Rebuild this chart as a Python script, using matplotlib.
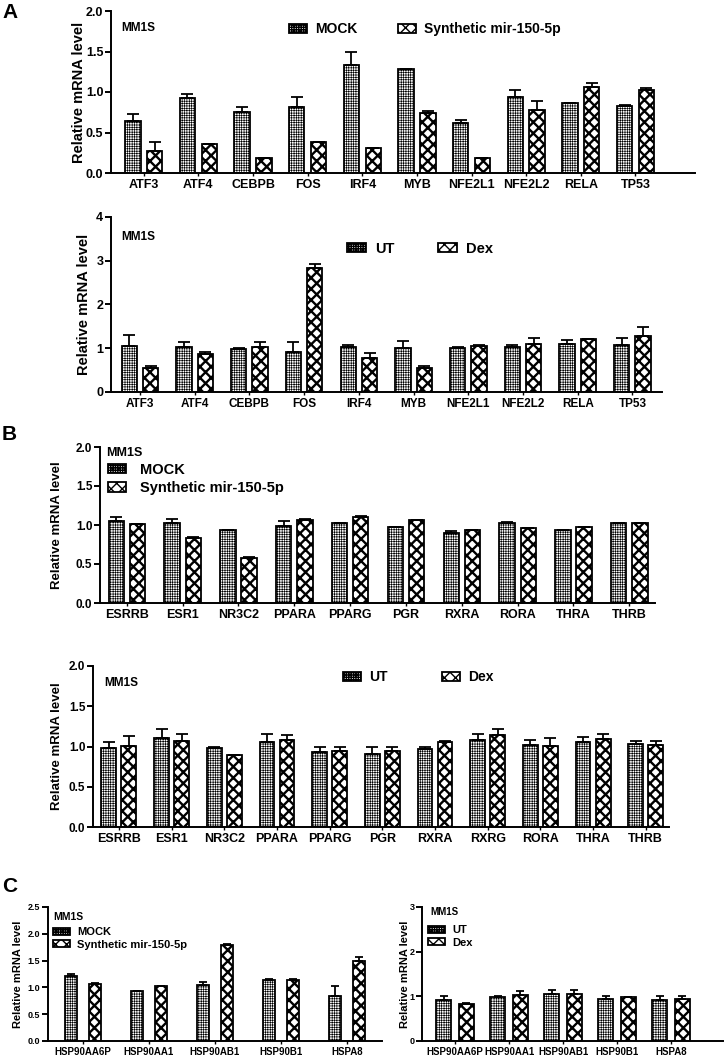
import matplotlib
matplotlib.use("Agg")
import matplotlib.pyplot as plt
import numpy as np

W, H = 728, 1057
plt.rcParams['font.family'] = ['Liberation Sans', 'DejaVu Sans']
plt.rcParams['font.weight'] = 'bold'
plt.rcParams['axes.labelweight'] = 'bold'

# A: transcription factors
tf_genes = ['ATF3', 'ATF4', 'CEBPB', 'FOS', 'IRF4', 'MYB', 'NFE2L1', 'NFE2L2', 'RELA', 'TP53']
a1_mock = [0.64, 0.93, 0.75, 0.81, 1.33, 1.29, 0.62, 0.94, 0.86, 0.83]
a1_mock_err = [0.09, 0.05, 0.06, 0.13, 0.16, 0.0, 0.04, 0.09, 0.01, 0.01]
a1_mir = [0.27, 0.36, 0.19, 0.38, 0.31, 0.74, 0.18, 0.78, 1.06, 1.03]
a1_mir_err = [0.11, 0.0, 0.0, 0.0, 0.0, 0.02, 0.0, 0.11, 0.05, 0.02]
a2_ut = [1.05, 1.03, 0.98, 0.91, 1.03, 1.01, 1.01, 1.03, 1.09, 1.07]
a2_ut_err = [0.26, 0.11, 0.02, 0.23, 0.05, 0.15, 0.03, 0.05, 0.09, 0.16]
a2_dex = [0.55, 0.86, 1.03, 2.83, 0.78, 0.55, 1.05, 1.09, 1.20, 1.27]
a2_dex_err = [0.04, 0.05, 0.11, 0.09, 0.12, 0.04, 0.03, 0.14, 0.02, 0.22]

# B: nuclear receptors
nr_genes1 = ['ESRRB', 'ESR1', 'NR3C2', 'PPARA', 'PPARG', 'PGR', 'RXRA', 'RORA', 'THRA', 'THRB']
b1_mock = [1.05, 1.03, 0.93, 0.99, 1.02, 0.98, 0.90, 1.03, 0.93, 1.02]
b1_mock_err = [0.05, 0.05, 0.0, 0.06, 0.0, 0.0, 0.02, 0.01, 0.0, 0.0]
b1_mir = [1.01, 0.83, 0.58, 1.07, 1.10, 1.06, 0.93, 0.96, 0.98, 1.02]
b1_mir_err = [0.0, 0.01, 0.01, 0.01, 0.01, 0.0, 0.01, 0.0, 0.0, 0.0]
nr_genes2 = ['ESRRB', 'ESR1', 'NR3C2', 'PPARA', 'PPARG', 'PGR', 'RXRA', 'RXRG', 'RORA', 'THRA', 'THRB']
b2_ut = [0.98, 1.10, 0.98, 1.05, 0.93, 0.91, 0.97, 1.08, 1.02, 1.05, 1.03]
b2_ut_err = [0.07, 0.12, 0.02, 0.11, 0.07, 0.09, 0.03, 0.07, 0.06, 0.07, 0.04]
b2_dex = [1.01, 1.07, 0.89, 1.08, 0.94, 0.94, 1.06, 1.14, 1.01, 1.09, 1.02]
b2_dex_err = [0.12, 0.08, 0.01, 0.06, 0.06, 0.05, 0.01, 0.08, 0.10, 0.07, 0.05]

# C: heat shock proteins
hsp_genes = ['HSP90AA6P', 'HSP90AA1', 'HSP90AB1', 'HSP90B1', 'HSPA8']
c1_mock = [1.21, 0.94, 1.05, 1.14, 0.84]
c1_mock_err = [0.04, 0.0, 0.05, 0.02, 0.18]
c1_mir = [1.06, 1.02, 1.79, 1.13, 1.50]
c1_mir_err = [0.03, 0.01, 0.02, 0.03, 0.06]
c2_ut = [0.91, 0.99, 1.06, 0.93, 0.91]
c2_ut_err = [0.09, 0.02, 0.09, 0.08, 0.09]
c2_dex = [0.83, 1.04, 1.06, 0.98, 0.93]
c2_dex_err = [0.03, 0.08, 0.09, 0.01, 0.08]

fig = plt.figure(figsize=(W / 100, H / 100), dpi=100)


def fpos(x, y):
    return x / W, 1 - y / H


def bars(ax, x, vals, width, hatch, hlw, label):
    with plt.rc_context({'hatch.linewidth': hlw}):
        b = ax.bar(x, vals, width, color='white', edgecolor='black',
                   linewidth=1.3, hatch=hatch, label=label, zorder=2)
    for p in b:
        if hasattr(p, 'set_hatch_linewidth'):
            p.set_hatch_linewidth(hlw)
    return b


def panel(box, xlim, genes, s1, e1, s2, e2, names, ylim, yticks, fmt,
          width, off, tick_fs, lab_fs, ylab_fs, ylab_x, cap):
    x0, x1, yt, yb = box
    ax = fig.add_axes([x0 / W, 1 - yb / H, (x1 - x0) / W, (yb - yt) / H])
    x = np.arange(len(genes))
    h1 = bars(ax, x - off, s1, width, '+++++++', 0.45, names[0])
    h2 = bars(ax, x + off, s2, width, 'xxx', 1.7, names[1])
    for xs, v, e in ((x - off, s1, e1), (x + off, s2, e2)):
        ax.errorbar(xs, v, yerr=[np.zeros(len(e)), e], fmt='none', ecolor='black',
                    elinewidth=1.3, capsize=cap, capthick=1.3, zorder=3)
    ax.set_xlim(*xlim)
    ax.set_ylim(*ylim)
    ax.set_yticks(yticks)
    ax.set_yticklabels([fmt.format(t) for t in yticks], fontsize=tick_fs)
    ax.set_xticks(x)
    ax.set_xticklabels(genes, fontsize=lab_fs)
    for s in ('top', 'right'):
        ax.spines[s].set_visible(False)
    for s in ('left', 'bottom'):
        ax.spines[s].set_linewidth(1.4)
    ax.tick_params(axis='y', length=4.5, width=1.4, pad=1)
    ax.tick_params(axis='x', length=2.5, width=1, pad=2)
    ax.set_ylabel('Relative mRNA level', fontsize=ylab_fs, va='center')
    ax.yaxis.set_label_coords((ylab_x - x0) / (x1 - x0), 0.5)
    return ax, [h1, h2]


def legend(ax, handles, pos, ncol, fs, colsp, lsp, hl=1.3, tp=0.6, hh=0.6):
    ax.legend(handles=handles, loc='center left', bbox_to_anchor=fpos(*pos),
              bbox_transform=fig.transFigure, ncol=ncol, frameon=False,
              borderpad=0, borderaxespad=0, fontsize=fs, handlelength=hl,
              handleheight=hh, handletextpad=tp, columnspacing=colsp,
              labelspacing=lsp)


def tag(pos, s, fs):
    fig.text(*fpos(*pos), s, fontsize=fs, ha='left', va='center', fontweight='bold')


mir_names = ['MOCK', 'Synthetic mir-150-5p']
dex_names = ['UT', 'Dex']

# A top
ax, h = panel((111, 695, 11, 173), (-0.6, 10.09), tf_genes, a1_mock, a1_mock_err,
              a1_mir, a1_mir_err, mir_names, (0, 2.0), [0, 0.5, 1.0, 1.5, 2.0], '{:.1f}',
              0.28, 0.2, 9, 9, 10.5, 79, 4)
legend(ax, h, (289, 29), 2, 10, 2.9, 0.4)
tag((121, 28), 'MM1S', 8.5)

# A bottom
ax, h = panel((111, 662, 217, 392), (-0.53, 9.54), tf_genes, a2_ut, a2_ut_err,
              a2_dex, a2_dex_err, dex_names, (0, 4), [0, 1, 2, 3, 4], '{:.0f}',
              0.28, 0.195, 9, 8.5, 10.5, 84, 4)
legend(ax, h, (347, 249), 2, 10.5, 3.0, 0.4)
tag((121, 237), 'MM1S', 8.5)

# B top
ax, h = panel((100, 655, 447, 603), (-0.48, 9.46), nr_genes1, b1_mock, b1_mock_err,
              b1_mir, b1_mir_err, mir_names, (0, 2.0), [0, 0.5, 1.0, 1.5, 2.0], '{:.1f}',
              0.275, 0.19, 8.5, 9, 9.5, 57, 4)
legend(ax, h, (108, 479), 1, 10.5, 1, 0.3, 1.2, 1.0)
tag((106, 453), 'MM1S', 9)

# B bottom
ax, h = panel((93, 669, 666, 827), (-0.49, 10.44), nr_genes2, b2_ut, b2_ut_err,
              b2_dex, b2_dex_err, dex_names, (0, 2.0), [0, 0.5, 1.0, 1.5, 2.0], '{:.1f}',
              0.28, 0.19, 8.5, 9, 9.5, 57, 4)
legend(ax, h, (343, 677), 2, 10, 3.9, 0.4)
tag((104, 683), 'MM1S', 8.5)

# C left
ax, h = panel((48, 382, 907, 1041), (-0.53, 4.53), hsp_genes, c1_mock, c1_mock_err,
              c1_mir, c1_mir_err, mir_names, (0, 2.5), [0, 0.5, 1.0, 1.5, 2.0, 2.5], '{:.1f}',
              0.19, 0.18, 6.5, 7, 8, 18, 3)
legend(ax, h, (53, 938.5), 1, 8, 1, 0.2, 1.55, 0.6, 0.65)
tag((53, 917), 'MM1S', 7.5)

# C right
ax, h = panel((422, 723, 907, 1041), (-0.61, 4.96), hsp_genes, c2_ut, c2_ut_err,
              c2_dex, c2_dex_err, dex_names, (0, 3), [0, 1, 2, 3], '{:.0f}',
              0.27, 0.21, 6.5, 7, 8, 405, 3)
legend(ax, h, (428, 936.5), 1, 8, 1, 0.2, 1.55, 0.6, 0.65)
tag((430, 912), 'MM1S', 7)

# panel letters
tag((2, 13), 'A', 15)
tag((2, 434), 'B', 15)
tag((2, 887), 'C', 15)

fig.savefig('out.png', dpi=100)
